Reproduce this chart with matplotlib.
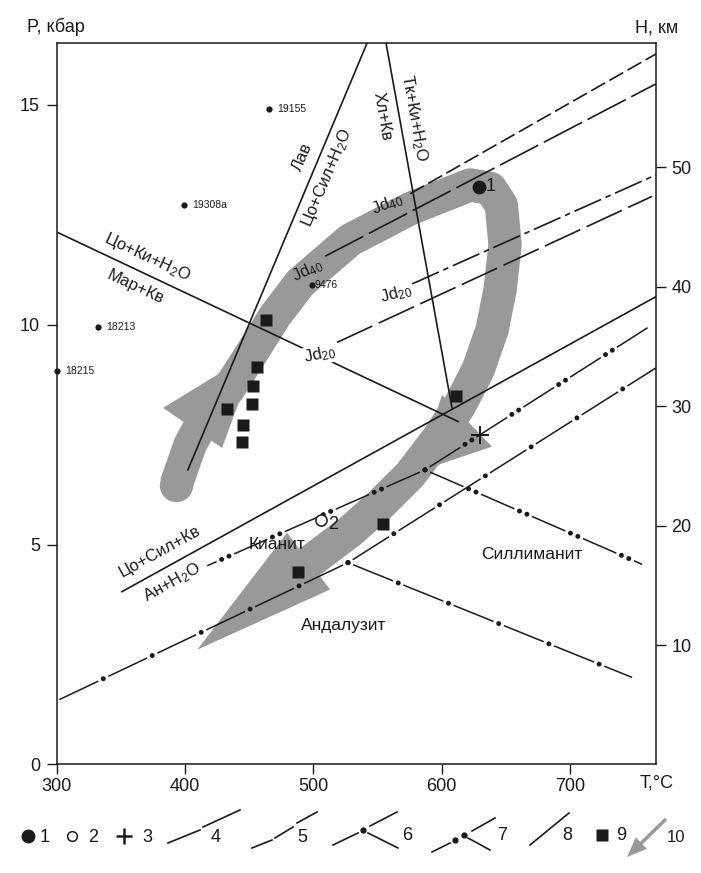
import matplotlib
matplotlib.use('Agg')
import matplotlib.pyplot as plt

plt.rcParams['font.family'] = ['Liberation Sans', 'DejaVu Sans']
plt.rcParams['mathtext.fontset'] = 'custom'
plt.rcParams['mathtext.rm'] = 'Liberation Sans'
plt.rcParams['mathtext.it'] = 'Liberation Sans:italic'
plt.rcParams['mathtext.bf'] = 'Liberation Sans:bold'
plt.rcParams['lines.scale_dashes'] = False

# ---- data: T (°C), P (kbar) ----
# solid reaction lines (8)
zo_ky_T, zo_ky_P = [300.0, 612.8], [12.11, 7.80]        # Цо+Ки+H2O = Мар+Кв
lav_T, lav_P = [541.9, 402.2], [16.41, 6.70]            # Лав = Цо+Сил+H2O
chl_T, chl_P = [556.6, 608.0], [16.41, 8.11]            # Хл+Кв = Тк+Ки+H2O
zo_sil_T, zo_sil_P = [350.8, 767.0], [3.93, 10.64]      # Цо+Сил+Кв = Ан+H2O

# jadeite isopleths (4, 5)
jd40a_T, jd40a_P = [575.4, 767.0], [12.98, 16.16]
jd40b_T, jd40b_P = [509.2, 767.0], [11.56, 15.48]
jd20a_T, jd20a_P = [577.0, 767.0], [10.93, 13.41]
jd20b_T, jd20b_P = [518.5, 763.9], [9.60, 12.92]

# Al2SiO5 triple point, variant 6 (each branch starts at the junction)
ky_and6_T, ky_and6_P = [527.0, 300.2], [4.59, 1.45]
ky_sil6_T, ky_sil6_P = [527.0, 767.0], [4.59, 9.02]
and_sil6_T, and_sil6_P = [527.0, 748.4], [4.59, 1.98]
# variant 7
ky_and7_T, ky_and7_P = [587.0, 417.3], [6.70, 4.52]
ky_sil7_T, ky_sil7_P = [587.0, 764.0], [6.70, 10.00]
and_sil7_T, and_sil7_P = [587.0, 756.3], [6.70, 4.55]

# points
p1_T, p1_P = 629.2, 13.14
p2_T, p2_P = 506.1, 5.55
p3_T, p3_P = 629.8, 7.50
samp_names = ['19155', '19308a', '9476', '18213', '18215']
samp_T = [465.7, 399.0, 498.7, 332.4, 300.0]
samp_P = [14.90, 12.73, 10.91, 9.94, 8.96]
sq_T = [463.1, 455.9, 453.2, 452.0, 433.0, 445.0, 444.2, 611.2, 554.6, 488.3]
sq_P = [10.11, 9.05, 8.60, 8.20, 8.08, 7.73, 7.33, 8.37, 5.48, 4.37]

# P-T path (10)
path_T = [393.0, 403.9, 417.9, 433.5, 450.7, 470.1, 489.6, 528.6, 575.4, 622.1,
          638.0, 646.5, 649.4, 645.5, 639.3, 628.4, 614.3, 596.4, 575.4, 552.0,
          528.6, 501.3, 478.0]
path_P = [6.36, 7.27, 8.02, 8.52, 9.30, 10.20, 10.95, 11.93, 12.64, 13.18,
          13.10, 12.72, 11.82, 10.80, 9.89, 8.98, 8.18, 7.39, 6.59, 5.91,
          5.30, 4.70, 4.20]
head1_T, head1_P = [382.9, 456.8, 428.9], [8.11, 9.43, 7.20]
head2_T, head2_P = [600.2, 639.2, 581.6], [8.41, 7.23, 6.66]
head3_T, head3_P = [479.5, 513.0, 409.5], [5.27, 3.98, 2.61]

P_ticks = [0, 5, 10, 15]
T_ticks = [300, 400, 500, 600, 700]
H_ticks = [10, 20, 30, 40, 50]
km_per_kbar = 3.68

K = '#1a1a1a'
GREY = '#999999'

fig = plt.figure(figsize=(7.01, 8.73), dpi=100)
ax = fig.add_axes([0.0809, 0.1243, 0.8549, 0.8265])
ax.set_xlim(300, 767)
ax.set_ylim(0, 16.41)


def dot_line(a, T, P, period, pair=0.0, gap=4.0, lw=1.1, dlw=3.6, z=3):
    # thin dashes with gaps, dots placed in the gaps; junction at T[0], P[0]
    if pair:
        a.plot(T, P, color=K, lw=lw, zorder=z,
               linestyle=(period - gap, (period - pair - 2 * gap, pair + 2 * gap)))
        a.plot(T, P, color=K, lw=dlw, zorder=z, dash_capstyle='round',
               linestyle=(pair, (0.01, pair - 0.01, 0.01, period - pair - 0.01)))
    else:
        a.plot(T, P, color=K, lw=lw, zorder=z,
               linestyle=(period - gap, (period - 2 * gap, 2 * gap)))
        a.plot(T, P, color=K, lw=dlw, zorder=z, dash_capstyle='round',
               linestyle=(0, (0.01, period - 0.01)))


# P-T path band
ax.plot(path_T, path_P, color=GREY, lw=24, solid_capstyle='butt',
        solid_joinstyle='round', zorder=1)
ax.plot(path_T[0], path_P[0], 'o', color=GREY, ms=24, mec='none', zorder=1)
for hT, hP in [(head1_T, head1_P), (head2_T, head2_P), (head3_T, head3_P)]:
    ax.fill(hT, hP, color=GREY, lw=0, zorder=1)

# solid lines
for T, P in [(zo_ky_T, zo_ky_P), (lav_T, lav_P), (chl_T, chl_P), (zo_sil_T, zo_sil_P)]:
    ax.plot(T, P, color=K, lw=1.2, zorder=3)

# jadeite lines
ax.plot(jd40a_T, jd40a_P, color=K, lw=1.2, linestyle=(0, (11.5, 3.5)), zorder=3)
ax.plot(jd40b_T, jd40b_P, color=K, lw=1.2, linestyle=(0, (31, 4.5)), zorder=3)
ax.plot(jd20a_T, jd20a_P, color=K, lw=1.2, linestyle=(0, (21, 3.5, 4, 3.5)), zorder=3)
ax.plot(jd20b_T, jd20b_P, color=K, lw=1.2, linestyle=(0, (28, 5)), zorder=3)

# Al2SiO5 lines
for T, P in [(ky_and6_T, ky_and6_P), (ky_sil6_T, ky_sil6_P), (and_sil6_T, and_sil6_P)]:
    dot_line(ax, T, P, 39)
for T, P in [(ky_and7_T, ky_and7_P), (ky_sil7_T, ky_sil7_P), (and_sil7_T, and_sil7_P)]:
    dot_line(ax, T, P, 40, pair=5.8)

# markers
ax.plot(sq_T, sq_P, 's', color=K, ms=9, mec='none', zorder=5)
ax.plot(samp_T, samp_P, 'o', color=K, ms=4.5, mec='none', zorder=5, clip_on=False)
for n, T, P in zip(samp_names, samp_T, samp_P):
    ax.annotate(n, (T, P), xytext=(2 if n == '9476' else 6, 0), textcoords='offset points',
                fontsize=7.5, va='center', ha='left', color=K, zorder=6)
ax.plot(p1_T, p1_P, 'o', color=K, ms=9, zorder=6)
ax.annotate('1', (p1_T, p1_P), xytext=(5, 0), textcoords='offset points',
            fontsize=13, va='center', color=K)
ax.plot(p2_T, p2_P, 'o', mfc='white', mec=K, mew=1.1, ms=8, zorder=6)
ax.annotate('2', (p2_T, p2_P), xytext=(5, -3), textcoords='offset points',
            fontsize=13, va='center', color=K)
ax.plot(p3_T, p3_P, '+', color=K, ms=13, mew=1.4, zorder=6)


# labels on the diagram
def lab(T, P, s, rot=0, fs=12, bg=False):
    t = ax.text(T, P, s, rotation=rot, rotation_mode='anchor', ha='center',
                va='center', fontsize=fs, color=K, zorder=4)
    if bg:
        t.set_bbox(dict(facecolor='white', edgecolor='none', pad=0.5))


lab(370.3, 11.55, 'Цо+Ки+H$_2$O', -25)
lab(361.0, 10.86, 'Мар+Кв', -25)
lab(491.1, 13.82, 'Лав', 67)
lab(510.6, 13.34, 'Цо+Сил+H$_2$O', 67)
lab(553.6, 14.75, 'Хл+Кв', -80)
lab(578.6, 14.70, 'Тк+Ки+H$_2$O', -80)
lab(380.5, 4.84, 'Цо+Сил+Кв', 29)
lab(389.8, 4.14, 'Ан+H$_2$O', 29)
lab(471.7, 5.00, 'Кианит', 0, 12.5)
lab(670.5, 4.77, 'Силлиманит', 0, 12.5)
lab(523.9, 3.16, 'Андалузит', 0, 12.5)
lab(557.4, 12.73, 'Jd$_{40}$', 22)
lab(495.8, 11.23, 'Jd$_{40}$', 25)
lab(564.5, 10.70, 'Jd$_{20}$', 15, bg=True)
lab(505.2, 9.32, 'Jd$_{20}$', 12, bg=True)

# axes
ax.set_xticks(T_ticks)
ax.set_yticks(P_ticks)
ax.tick_params(direction='out', length=7, width=1, labelsize=13, colors=K, pad=3)
ax.tick_params(axis='y', pad=5)
ax.yaxis.get_major_ticks()[0].tick1line.set_visible(False)
for s in ax.spines.values():
    s.set_linewidth(1.1)
    s.set_color(K)
ax2 = ax.twinx()
ax2.set_ylim(0, 16.41 * km_per_kbar)
ax2.set_yticks(H_ticks)
ax2.tick_params(direction='out', length=7, width=1, labelsize=13, colors=K, pad=4)
for s in ax2.spines.values():
    s.set_visible(False)

fig.text(0.080, 0.969, 'P, кбар', fontsize=13, ha='center', va='center', color=K)
fig.text(0.937, 0.968, 'H, км', fontsize=13, ha='center', va='center', color=K)
fig.text(0.937, 0.103, 'T,°C', fontsize=13, ha='center', va='center', color=K)

# legend row (pixel coordinates)
lax = fig.add_axes([0, 0, 1, 1], facecolor='none')
lax.set_xlim(0, 701)
lax.set_ylim(873, 0)
lax.axis('off')
lfs = 13
lax.plot(28, 836, 'o', color=K, ms=9)
lax.text(40, 838, '1', fontsize=lfs, va='center', color=K)
lax.plot(72, 836, 'o', mfc='white', mec=K, mew=1.1, ms=7)
lax.text(88, 838, '2', fontsize=lfs, va='center', color=K)
lax.plot(124, 836, '+', color=K, ms=12, mew=1.8)
lax.text(142, 838, '3', fontsize=lfs, va='center', color=K)
for seg in [((168, 200), (843, 830)), ((203, 240), (827, 810))]:
    lax.plot(*seg, color=K, lw=1.2)
lax.text(211, 838, '4', fontsize=lfs, va='center', color=K)
for seg in [((252, 272), (848, 840)), ((275, 293), (838, 827)), ((297, 317), (823, 812))]:
    lax.plot(*seg, color=K, lw=1.2)
lax.text(297, 838, '5', fontsize=lfs, va='center', color=K)
for seg in [((333, 358), (845, 833)), ((370, 397), (826, 812)), ((368, 398), (833, 848))]:
    lax.plot(*seg, color=K, lw=1.2)
lax.plot(363, 830, 'o', color=K, ms=3.5)
lax.text(402, 836, '6', fontsize=lfs, va='center', color=K)
for seg in [((432, 450), (852, 843)), ((472, 495), (831, 818)), ((468, 490), (838, 850))]:
    lax.plot(*seg, color=K, lw=1.2)
lax.plot([455, 464], [840, 835], 'o', color=K, ms=3.5)
lax.text(497, 836, '7', fontsize=lfs, va='center', color=K)
lax.plot((530, 569), (845, 813), color=K, lw=1.2)
lax.text(562, 836, '8', fontsize=lfs, va='center', color=K)
lax.plot(602, 835, 's', color=K, ms=9, mec='none')
lax.text(616, 836, '9', fontsize=lfs, va='center', color=K)
lax.arrow(666, 819, -39, 38, width=3.5, head_width=16, head_length=20,
          length_includes_head=True, color=GREY, lw=0)
lax.text(667, 838, '10', fontsize=12, va='center', color=K)

fig.savefig('out.png', dpi=100)
